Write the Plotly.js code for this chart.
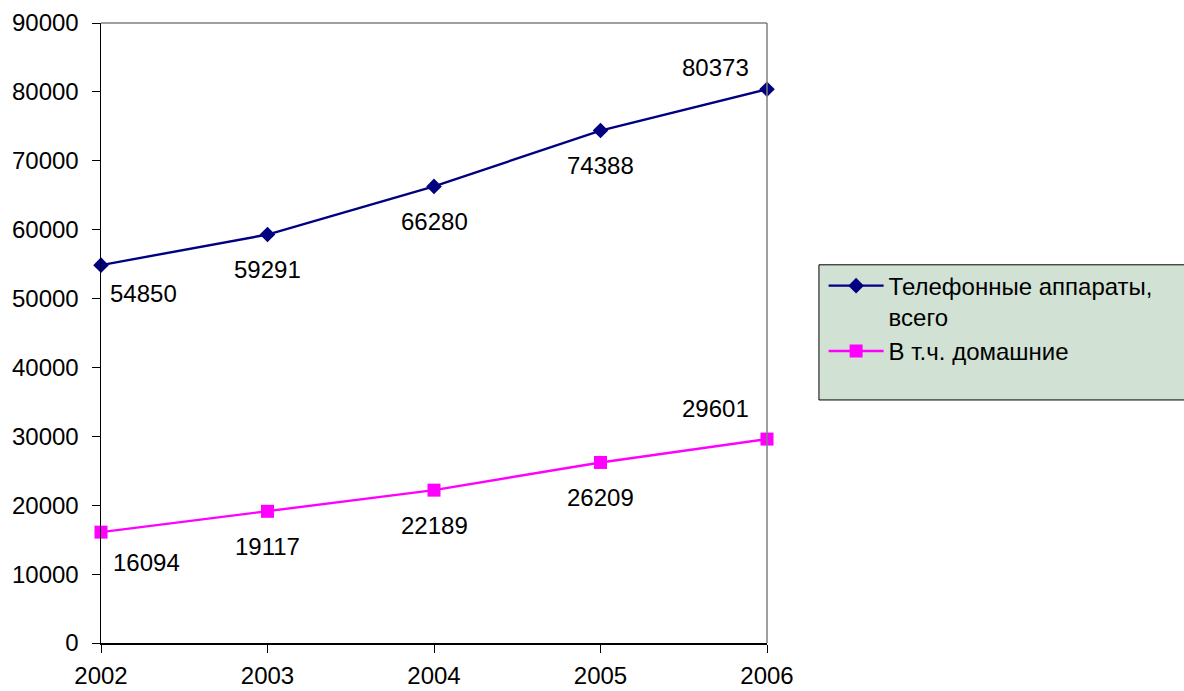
<!DOCTYPE html>
<html><head><meta charset="utf-8">
<script src="https://cdn.plot.ly/plotly-3.0.1.min.js"></script>
<style>html,body{margin:0;padding:0;background:#fff;}#chart{width:1184px;height:691px;}</style>
</head><body><div id="chart"></div>
<script>
const years = [2002, 2003, 2004, 2005, 2006];
const totalPhones = [54850, 59291, 66280, 74388, 80373];
const homePhones = [16094, 19117, 22189, 26209, 29601];
const seriesNames = ['Телефонные аппараты,<br>всего', 'В т.ч. домашние'];
const yTicks = [0, 10000, 20000, 30000, 40000, 50000, 60000, 70000, 80000, 90000];

const FONT = 'Liberation Sans, Arial, sans-serif';
const FS = 24;

const traces = [
  {x: years, y: totalPhones, name: seriesNames[0], type: 'scatter', mode: 'lines+markers',
   line: {color: '#000080', width: 2.4}, marker: {symbol: 'diamond', size: 12, color: '#000080'}, cliponaxis: false},
  {x: years, y: homePhones, name: seriesNames[1], type: 'scatter', mode: 'lines+markers',
   line: {color: '#ff00ff', width: 2.4}, marker: {symbol: 'square', size: 13, color: '#ff00ff'}, cliponaxis: false}
];

// label offsets (pixels) relative to each point
const offs = [[42, -28], [0, -35], [0, -35], [0, -35], [-52, 22]];
const annotations = [];
[totalPhones, homePhones].forEach((ser, si) => {
  ser.forEach((v, i) => {
    let o = offs[i];
    if (si === 1 && i === 0) o = [45, -30];
    if (si === 1 && i === 4) o = [-52, 31];
    annotations.push({x: years[i], y: v, text: String(v), showarrow: false,
      xshift: o[0], yshift: o[1], font: {family: FONT, size: FS, color: '#000'}});
  });
});

const layout = {
  width: 1184, height: 691,
  margin: {l: 101, r: 417, t: 23, b: 48},
  paper_bgcolor: '#fff', plot_bgcolor: '#fff',
  showlegend: true,
  legend: {x: 1.085, y: 0.612, xanchor: 'left', yanchor: 'top', bgcolor: 'rgba(0,0,0,0)', valign: 'top',
    font: {family: FONT, size: FS, color: '#000', lineposition: 'none'}, itemwidth: 55, tracegroupgap: 8},
  xaxis: {range: [2002, 2006], tickvals: years, ticktext: years.map(String), showgrid: false, zeroline: false,
    showline: true, linecolor: '#000', linewidth: 1.5, ticks: 'outside', ticklen: 8, tickcolor: '#000',
    ticklabelstandoff: 3,
    tickfont: {family: FONT, size: FS, color: '#000'}, fixedrange: true},
  yaxis: {range: [0, 90000], tickvals: yTicks, ticktext: yTicks.map(String), showgrid: false, zeroline: false,
    showline: true, linecolor: '#000', linewidth: 1.5, ticks: 'outside', ticklen: 8, tickcolor: '#000',
    ticklabelstandoff: 8,
    tickfont: {family: FONT, size: FS, color: '#000'}, fixedrange: true},
  shapes: [
    {type: 'line', xref: 'paper', yref: 'paper', x0: 0, x1: 1, y0: 1, y1: 1, line: {color: '#808080', width: 1.5}},
    {type: 'line', xref: 'paper', yref: 'paper', x0: 1, x1: 1, y0: 0, y1: 1, line: {color: '#808080', width: 1.5}},
    {type: 'rect', xref: 'paper', yref: 'paper', x0: 1.078, x1: 1.65, y0: 0.392, y1: 0.61,
     fillcolor: '#d1e2d4', line: {color: '#000', width: 1}, layer: 'below'}
  ],
  annotations: annotations
};

Plotly.newPlot('chart', traces, layout, {displayModeBar: false, staticPlot: true});
</script></body></html>
